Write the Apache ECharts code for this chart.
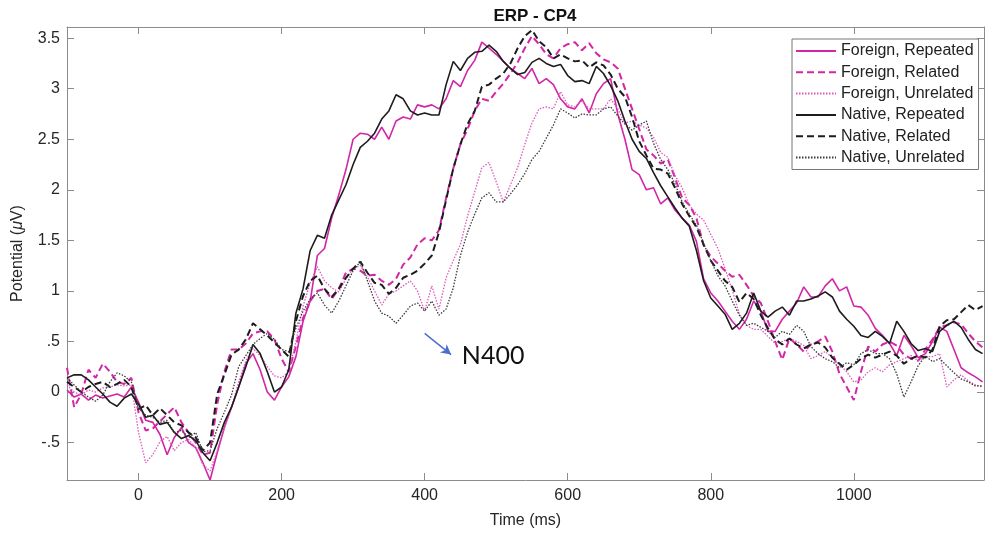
<!DOCTYPE html>
<html><head><meta charset="utf-8">
<script src="https://cdn.jsdelivr.net/npm/echarts@6/dist/echarts.min.js"></script>
<style>html,body{margin:0;padding:0;background:#fff}#c{width:985px;height:534px}</style>
</head><body><div id="c"></div>
<script>
const time = [-100,-90,-80,-70,-60,-50,-40,-30,-20,-10,
0,10,20,30,40,50,60,70,80,90,
100,110,120,130,140,150,160,170,180,190,
200,210,220,230,240,250,260,270,280,290,
300,310,320,330,340,350,360,370,380,390,
400,410,420,430,440,450,460,470,480,490,
500,510,520,530,540,550,560,570,580,590,
600,610,620,630,640,650,660,670,680,690,
700,710,720,730,740,750,760,770,780,790,
800,810,820,830,840,850,860,870,880,890,
900,910,920,930,940,950,960,970,980,990,
1000,1010,1020,1030,1040,1050,1060,1070,1080,1090,
1100,1110,1120,1130,1140,1150,1160,1170,1180];

const foreignRepeated = [0.02,-0.05,-0.02,-0.08,-0.03,-0.06,-0.04,-0.02,-0.05,0.05,
-0.1,-0.28,-0.3,-0.42,-0.62,-0.45,-0.35,-0.5,-0.55,-0.7,
-0.87,-0.6,-0.35,-0.15,0.05,0.28,0.38,0.22,0.0,-0.08,
0.05,0.15,0.35,0.7,0.9,1.35,1.42,1.72,1.95,2.2,
2.5,2.56,2.55,2.5,2.62,2.5,2.68,2.72,2.7,2.84,
2.82,2.84,2.8,2.9,3.08,3.02,3.18,3.28,3.46,3.4,
3.34,3.27,3.2,3.15,3.1,3.2,3.05,3.1,3.04,2.9,
2.82,2.8,2.9,2.76,2.95,3.05,3.1,2.75,2.5,2.2,
2.15,2.0,2.02,1.86,1.92,1.8,1.72,1.65,1.49,1.12,
0.98,0.9,0.8,0.7,0.62,0.72,0.9,0.8,0.6,0.6,
0.72,0.8,0.88,1.04,0.94,0.94,1.05,1.12,1.0,1.04,
0.85,0.84,0.76,0.63,0.56,0.48,0.36,0.56,0.46,0.34,
0.38,0.5,0.64,0.6,0.42,0.24,0.19,0.15,0.1];

const foreignRelated = [0.24,-0.15,-0.02,0.22,0.14,0.28,0.2,0.1,0.08,0.14,
-0.2,-0.38,-0.36,-0.29,-0.22,-0.15,-0.3,-0.4,-0.5,-0.62,
-0.6,-0.12,0.2,0.42,0.42,0.48,0.58,0.6,0.6,0.52,
0.33,0.2,0.45,0.73,0.9,1.0,1.02,0.92,1.02,1.18,
1.22,1.2,1.15,1.16,1.1,1.06,1.12,1.26,1.33,1.46,
1.52,1.5,1.6,1.92,2.21,2.45,2.6,2.78,2.9,2.88,
2.97,3.05,3.15,3.26,3.4,3.52,3.44,3.34,3.3,3.4,
3.44,3.46,3.38,3.45,3.35,3.29,3.26,3.2,3.0,2.8,
2.6,2.4,2.34,2.26,2.3,2.12,1.92,1.85,1.72,1.45,
1.34,1.27,1.2,1.14,1.16,1.06,0.95,0.88,0.7,0.5,
0.32,0.53,0.47,0.4,0.47,0.5,0.55,0.4,0.18,0.05,
-0.08,0.2,0.45,0.4,0.47,0.5,0.46,0.37,0.33,0.31,
0.42,0.52,0.64,0.66,0.69,0.67,0.58,0.5,0.44];

const foreignUnrelated = [0.07,0.0,-0.03,0.02,0.0,0.04,0.05,0.07,0.06,0.07,
-0.4,-0.7,-0.62,-0.49,-0.44,-0.58,-0.5,-0.47,-0.55,-0.72,
-0.78,-0.58,-0.36,-0.15,0.1,0.31,0.43,0.36,0.25,0.16,
0.14,0.2,0.5,0.85,1.08,1.24,1.1,1.03,0.99,1.12,
1.22,1.25,1.14,1.0,0.86,0.97,1.0,1.05,1.1,1.0,
0.8,1.05,0.82,1.13,1.3,1.46,1.74,1.98,2.22,2.27,
2.08,1.88,2.05,2.22,2.45,2.66,2.8,2.82,2.8,2.97,
2.84,2.82,2.88,2.8,2.8,2.8,2.9,2.8,2.66,2.68,
2.64,2.61,2.52,2.37,2.32,2.14,2.02,1.85,1.76,1.7,
1.56,1.42,1.22,1.01,0.77,0.66,0.62,0.62,0.55,0.48,
0.5,0.53,0.5,0.46,0.33,0.36,0.4,0.34,0.27,0.2,
0.1,0.12,0.2,0.24,0.2,0.27,0.3,0.33,0.36,0.31,
0.35,0.35,0.38,0.05,0.12,0.17,0.11,0.07,0.05];

const nativeRepeated = [0.14,0.17,0.17,0.12,0.05,-0.02,-0.1,-0.14,-0.06,-0.02,
-0.12,-0.25,-0.23,-0.32,-0.3,-0.4,-0.46,-0.43,-0.48,-0.6,
-0.68,-0.5,-0.3,-0.15,0.05,0.25,0.47,0.38,0.2,0.0,
0.05,0.22,0.78,1.02,1.4,1.55,1.52,1.75,1.9,2.05,
2.25,2.42,2.48,2.56,2.7,2.78,2.94,2.9,2.78,2.74,
2.76,2.74,2.74,3.04,3.27,3.18,3.3,3.36,3.37,3.43,
3.37,3.27,3.2,3.14,3.16,3.26,3.3,3.25,3.22,3.24,
3.13,3.07,3.08,3.05,3.22,3.15,3.03,2.88,2.68,2.5,
2.38,2.31,2.17,2.04,1.93,1.82,1.72,1.64,1.4,1.1,
0.93,0.85,0.77,0.62,0.68,0.78,0.98,0.8,0.74,0.8,
0.84,0.76,0.9,0.9,0.92,0.95,0.99,0.94,0.8,0.72,
0.65,0.56,0.54,0.6,0.55,0.48,0.7,0.6,0.48,0.41,
0.43,0.4,0.6,0.66,0.7,0.64,0.52,0.42,0.38];

const nativeRelated = [0.1,0.05,0.0,0.05,0.08,0.1,0.05,0.08,0.12,0.05,
-0.17,-0.13,-0.23,-0.16,-0.23,-0.3,-0.33,-0.4,-0.45,-0.58,
-0.5,-0.02,0.17,0.37,0.42,0.52,0.68,0.62,0.56,0.49,
0.42,0.35,0.7,0.95,1.1,1.15,1.02,0.94,1.02,1.13,
1.22,1.29,1.18,1.08,1.06,0.97,1.03,1.13,1.16,1.2,
1.27,1.35,1.58,1.9,2.21,2.45,2.65,2.78,3.02,3.04,
3.1,3.15,3.25,3.4,3.52,3.58,3.47,3.41,3.3,3.34,
3.3,3.27,3.28,3.21,3.26,3.23,3.14,3.0,2.92,2.72,
2.48,2.34,2.21,2.2,2.16,2.02,1.86,1.74,1.63,1.46,
1.3,1.2,1.1,1.04,0.89,0.98,0.92,0.76,0.63,0.52,
0.47,0.53,0.47,0.43,0.47,0.49,0.44,0.34,0.28,0.22,
0.27,0.33,0.37,0.34,0.37,0.4,0.36,0.28,0.33,0.36,
0.34,0.42,0.65,0.71,0.72,0.79,0.86,0.81,0.85];

const nativeUnrelated = [0.14,0.07,0.0,-0.05,-0.09,-0.03,0.1,0.19,0.16,0.1,
-0.16,-0.23,-0.25,-0.3,-0.28,-0.4,-0.38,-0.45,-0.4,-0.59,
-0.58,-0.36,-0.2,-0.03,0.25,0.36,0.47,0.53,0.58,0.52,
0.42,0.4,0.63,0.8,0.92,0.98,0.86,0.78,0.9,1.05,
1.2,1.29,1.1,0.9,0.78,0.75,0.68,0.76,0.85,0.88,
0.8,0.9,0.76,0.82,1.03,1.35,1.58,1.76,1.92,1.97,
1.88,1.88,1.96,2.05,2.16,2.3,2.38,2.51,2.64,2.8,
2.76,2.71,2.75,2.74,2.74,2.8,2.82,2.73,2.65,2.59,
2.64,2.68,2.46,2.3,2.2,2.06,1.88,1.76,1.65,1.47,
1.3,1.15,1.05,0.9,0.76,0.66,0.68,0.64,0.6,0.54,
0.6,0.57,0.66,0.6,0.45,0.38,0.33,0.3,0.24,0.29,
0.27,0.38,0.42,0.38,0.38,0.33,0.18,-0.05,0.1,0.26,
0.36,0.3,0.33,0.26,0.19,0.13,0.1,0.06,0.06];

const seriesNames = ['Foreign, Repeated','Foreign, Related','Foreign, Unrelated','Native, Repeated','Native, Related','Native, Unrelated'];
const xTicks = [0,200,400,600,800,1000];
const yTicks = [-0.5,0,0.5,1,1.5,2,2.5,3,3.5];
const yTickLabels = ['-.5','0','.5','1','1.5','2','2.5','3','3.5'];
const annotationText = 'N400';

const MAG = '#d226a6';
const BLK = '#1c1c1c';
const AX = '#8c8c8c';
const FONT = '"Liberation Sans", Arial, Helvetica, sans-serif';

const styles = [
  {color: MAG, width: 1.6, type: 'solid'},
  {color: MAG, width: 2, type: [7, 4]},
  {color: '#dc58bb', width: 1.3, type: [1.5, 1.5]},
  {color: BLK, width: 1.6, type: 'solid'},
  {color: BLK, width: 2, type: [7, 4]},
  {color: '#3a3a3a', width: 1.3, type: [1.5, 1.5]}
];
const values = [foreignRepeated, foreignRelated, foreignUnrelated, nativeRepeated, nativeRelated, nativeUnrelated];

const series = values.map((vals, k) => ({
  name: seriesNames[k],
  type: 'line',
  data: time.map((t, i) => [t, vals[i]]),
  symbol: 'none',
  showSymbol: false,
  lineStyle: styles[k],
  itemStyle: {color: styles[k].color},
  emphasis: {disabled: true},
  z: 2 + k
}));

series[0].markLine = {
  silent: true, animation: false,
  symbol: ['none', 'arrow'], symbolSize: [8, 10],
  label: {show: false},
  lineStyle: {color: '#4a6fd0', width: 1.5, type: 'solid'},
  data: [[{coord: [400, 0.58]}, {coord: [437, 0.37]}]]
};
series[0].markPoint = {
  silent: true, animation: false,
  symbol: 'circle', symbolSize: 0,
  itemStyle: {color: 'transparent'},
  data: [{coord: [452, 0.36], label: {show: true, position: 'right', distance: 0, formatter: annotationText, fontSize: 25, color: '#111', fontFamily: 'Lato, "Open Sans", sans-serif'}}]
};

const axisLineStyle = {show: true, onZero: false, lineStyle: {color: AX, width: 1}};
const labelStyle = {fontSize: 16, color: '#262626', fontFamily: FONT};

const option = {
  animation: false,
  backgroundColor: '#fff',
  title: {text: 'ERP - CP4', left: 530, top: 3, textAlign: 'center',
    textStyle: {fontSize: 17, fontWeight: 'bold', color: '#111', fontFamily: FONT}},
  legend: {
    orient: 'vertical', left: 792, top: 39, padding: [4, 5, 4, 3],
    itemWidth: 40, itemHeight: 14, itemGap: 5.3,
    backgroundColor: '#fff', borderColor: '#777', borderWidth: 1,
    itemStyle: {opacity: 0},
    lineStyle: {opacity: 1},
    textStyle: {fontSize: 16, color: '#222', fontFamily: FONT},
    data: seriesNames, selectedMode: false
  },
  grid: {left: 67, right: 1, top: 27, bottom: 54},
  xAxis: [{
    type: 'value', min: -100, max: 1182, position: 'bottom',
    name: 'Time (ms)', nameLocation: 'middle', nameGap: 33,
    nameTextStyle: labelStyle,
    axisLine: axisLineStyle,
    axisTick: {show: true, inside: true, length: 7, customValues: xTicks, lineStyle: {color: AX}},
    axisLabel: Object.assign({customValues: xTicks, margin: 8, formatter: v => String(v)}, labelStyle),
    splitLine: {show: false}
  }, {
    type: 'value', min: -100, max: 1182, position: 'top',
    axisLine: axisLineStyle,
    axisTick: {show: true, inside: true, length: 7, customValues: xTicks, lineStyle: {color: AX}},
    axisLabel: {show: false}, splitLine: {show: false}
  }],
  yAxis: [{
    type: 'value', min: -0.87, max: 3.61, position: 'left',
    name: 'Potential ({i|μ}V)', nameLocation: 'middle', nameGap: 41,
    nameTextStyle: Object.assign({rich: {i: {fontStyle: 'italic', fontSize: 16, color: '#262626', fontFamily: FONT}}}, labelStyle),
    axisLine: axisLineStyle,
    axisTick: {show: true, inside: true, length: 7, customValues: yTicks, lineStyle: {color: AX}},
    axisLabel: Object.assign({customValues: yTicks, margin: 7,
      formatter: v => { const i = yTicks.findIndex(t => Math.abs(t - v) < 1e-6); return i >= 0 ? yTickLabels[i] : ''; }}, labelStyle),
    splitLine: {show: false}
  }, {
    type: 'value', min: -0.87, max: 3.61, position: 'right',
    axisLine: axisLineStyle,
    axisTick: {show: true, inside: true, length: 7, customValues: yTicks, lineStyle: {color: AX}},
    axisLabel: {show: false}, splitLine: {show: false}
  }],
  series: series
};

const chart = echarts.init(document.getElementById('c'), null, {renderer: 'canvas'});
chart.setOption(option);
</script></body></html>
